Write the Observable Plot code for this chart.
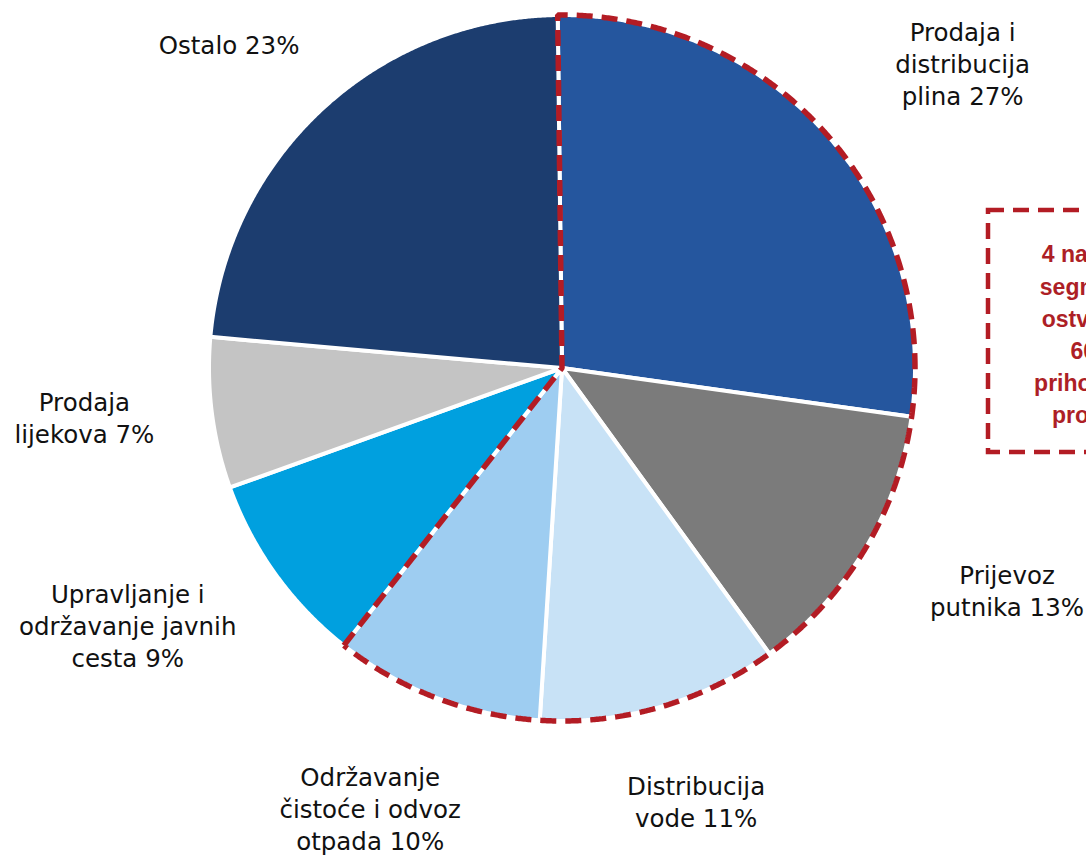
<!DOCTYPE html>
<html>
<head>
<meta charset="utf-8">
<script src="https://cdn.jsdelivr.net/npm/d3@7"></script>
<script src="https://cdn.jsdelivr.net/npm/@observablehq/plot@0.6"></script>
<style>
  html, body { margin: 0; padding: 0; background: #fff; overflow: hidden; }
  #chart svg { display: block; }
</style>
</head>
<body>
<div id="chart"></div>
<script>
// ---- data ----
const categories = [
  "Prodaja i distribucija plina",
  "Prijevoz putnika",
  "Distribucija vode",
  "Održavanje čistoće i odvoz otpada",
  "Upravljanje i održavanje javnih cesta",
  "Prodaja lijekova",
  "Ostalo"
];
const labelTexts = [
  "Prodaja i\ndistribucija\nplina",
  "Prijevoz\nputnika",
  "Distribucija\nvode",
  "Održavanje\nčistoće i odvoz\notpada",
  "Upravljanje i\nodržavanje javnih\ncesta",
  "Prodaja\nlijekova",
  "Ostalo"
];
const shares = [27.4, 12.8, 11.0, 9.6, 8.9, 6.9, 23.4];
const colors = ["#25569e", "#7b7b7b", "#c8e2f6", "#9ecdf1", "#00a0df", "#c4c4c4", "#1c3d6f"];
const highlighted = [
  "Prodaja i distribucija plina",
  "Prijevoz putnika",
  "Distribucija vode",
  "Održavanje čistoće i odvoz otpada"
];
const calloutLines = ["4 najveća", "segmenta", "ostvaruju", "60%", "prihoda od", "prodaje"];

// ---- layout ----
const W = 1086, H = 855;
const cx = 561.5, cy = 367.5, R = 353;
const rot = -0.7 * Math.PI / 180;
const labelRadius = 1.15;
// pixel nudges of each label block from its radial anchor
const labelNudge = [[96, -37], [97, 12.7], [21, 43], [-47, 60.5], [-105, 19], [-75, -3], [-57, -26.5]];
const red = "#b31c24";

const rows = categories.map((c, i) => ({category: c, share: shares[i], i}));
const arcs = d3.pie().sort(null).value(d => d.share).startAngle(rot).endAngle(2 * Math.PI + rot)(rows);
const pt = (a, r) => ({x: r * Math.sin(a), y: r * Math.cos(a)});
const arcPoints = (a0, a1) => {
  const n = Math.max(2, Math.ceil(Math.abs(a1 - a0) / (Math.PI / 720)));
  return d3.range(n + 1).map(k => pt(a0 + (a1 - a0) * k / n, 1));
};

const slicePts = arcs.flatMap(a => [pt(0, 0), ...arcPoints(a.startAngle, a.endAngle), pt(0, 0)]
  .map(p => ({...p, category: a.data.category})));

const hi = arcs.filter(a => highlighted.includes(a.data.category));
const hStart = d3.min(hi, a => a.startAngle), hEnd = d3.max(hi, a => a.endAngle);
const outlinePts = [pt(hEnd, 1), pt(0, 0), ...arcPoints(hStart, hEnd)];

const labelRows = arcs.map((a, i) => {
  const mid = (a.startAngle + a.endAngle) / 2;
  const p = pt(mid, labelRadius);
  return {
    x: p.x + labelNudge[i][0] / R,
    y: p.y - labelNudge[i][1] / R,
    text: labelTexts[i] + " " + Math.round(a.data.share) + "%"
  };
});

const callout = {
  x1: (988 - cx) / R, x2: (1198 - cx) / R,
  y1: (cy - 210) / R, y2: (cy - 452) / R,
  tx: (1093 - cx) / R, ty: (cy - 332) / R,
  text: calloutLines.join("\n")
};

const chart = Plot.plot({
  width: W,
  height: H,
  margin: 0,
  style: {background: "#fff", overflow: "hidden"},
  x: {domain: [-1, 1], range: [cx - R, cx + R], axis: null},
  y: {domain: [-1, 1], range: [cy + R, cy - R], axis: null},
  color: {domain: categories, range: colors},
  marks: [
    Plot.line(slicePts, {
      x: "x", y: "y", z: "category", fill: "category",
      stroke: "white", strokeWidth: 4, strokeLinejoin: "round", curve: "linear"
    }),
    Plot.line(outlinePts, {
      x: "x", y: "y", stroke: red, strokeWidth: 5.5,
      strokeDasharray: "16,9", strokeLinecap: "butt", strokeLinejoin: "miter", curve: "linear"
    }),
    Plot.text(labelRows, {
      x: "x", y: "y", text: "text",
      fontSize: 24.5, lineHeight: 1.31, fill: "#111",
      fontFamily: "DejaVu Sans", textAnchor: "middle", lineAnchor: "middle"
    }),
    Plot.rect([callout], {
      x1: "x1", x2: "x2", y1: "y1", y2: "y2",
      fill: "none", stroke: red, strokeWidth: 4.5, strokeDasharray: "16,9"
    }),
    Plot.text([callout], {
      x: "tx", y: "ty", text: "text",
      fontSize: 23, lineHeight: 1.4, fill: "#ad1f26", fontWeight: "bold",
      fontFamily: "Liberation Sans", textAnchor: "middle", lineAnchor: "middle"
    })
  ]
});
document.getElementById("chart").appendChild(chart);
</script>
</body>
</html>
